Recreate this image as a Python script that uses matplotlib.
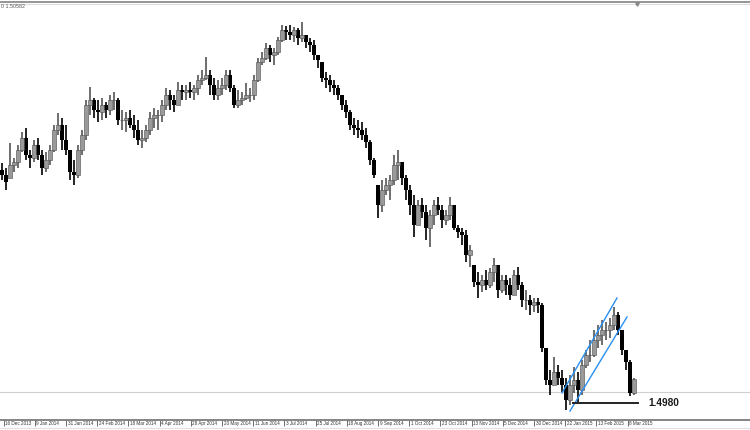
import matplotlib
matplotlib.use("Agg")
import matplotlib.pyplot as plt
import matplotlib.transforms as mtransforms
import numpy as np

# ---- data: GBPUSD daily, sampled bars (price x 1e-4) ----
highs = [16420,16390,16540,16450,16528,16606,16630,16498,16558,16570,
         16498,16486,16528,16648,16720,16690,16648,16498,16438,16528,
         16618,16798,16876,16810,16798,16810,16786,16828,16846,16810,
         16738,16726,16738,16708,16678,16618,16648,16726,16750,16738,
         16798,16870,16858,16828,16906,16888,16888,16906,16888,16948,
         16978,17056,16978,16930,16918,16930,16978,16978,16888,16858,
         16846,16900,16870,16948,17050,17086,17140,17128,17110,17176,
         17248,17242,17248,17236,17230,17266,17188,17170,17158,17068,
         17026,16966,16948,16918,16888,16828,16798,16738,16690,16678,
         16666,16630,16558,16450,16288,16318,16330,16348,16468,16498,
         16426,16348,16288,16228,16198,16210,16168,16138,16198,16216,
         16168,16138,16216,16168,16048,16030,16018,15928,15808,15766,
         15748,15778,15790,15850,15808,15748,15748,15730,15778,15796,
         15706,15658,15628,15610,15610,15580,15310,15178,15256,15208,
         15178,15130,15148,15196,15166,15238,15298,15358,15418,15448,
         15478,15466,15490,15556,15526,15418,15298,15238,15130]
lows = [16318,16258,16330,16366,16390,16486,16438,16390,16426,16438,
        16348,16366,16408,16486,16588,16498,16468,16318,16288,16330,
        16468,16558,16708,16690,16666,16678,16690,16708,16738,16648,
        16618,16606,16630,16570,16528,16510,16546,16588,16630,16618,
        16666,16738,16738,16726,16768,16798,16798,16810,16798,16828,
        16888,16918,16828,16798,16798,16828,16858,16846,16750,16750,
        16768,16798,16786,16798,16906,17008,17038,17026,17008,17068,
        17146,17158,17158,17146,17128,17146,17110,17086,17038,16990,
        16906,16870,16846,16828,16798,16738,16690,16618,16588,16570,
        16558,16510,16408,16330,16090,16126,16228,16198,16288,16318,
        16288,16198,16108,15976,16048,16090,15958,15916,16048,16108,
        16030,16048,16078,16018,15970,15928,15826,15796,15676,15610,
        15646,15658,15670,15706,15610,15640,15628,15598,15628,15658,
        15556,15538,15508,15526,15520,15286,15088,15028,15088,15088,
        15046,14938,14968,15040,14986,15028,15190,15226,15256,15310,
        15328,15358,15370,15418,15388,15268,15178,15022,15028]
closes = [16348,16306,16408,16426,16498,16570,16468,16450,16528,16468,
          16390,16438,16498,16618,16648,16558,16498,16366,16348,16498,
          16588,16768,16798,16738,16726,16768,16738,16798,16798,16678,
          16678,16690,16648,16618,16558,16570,16618,16690,16708,16708,
          16768,16828,16798,16768,16858,16846,16858,16846,16870,16918,
          16930,16948,16888,16828,16870,16888,16948,16870,16768,16798,
          16810,16828,16828,16918,17026,17050,17110,17068,17086,17158,
          17218,17206,17188,17218,17170,17188,17146,17128,17068,17038,
          16930,16918,16888,16870,16828,16768,16726,16648,16630,16618,
          16588,16546,16438,16348,16168,16258,16288,16318,16408,16426,
          16330,16258,16168,16048,16168,16126,16030,16108,16168,16138,
          16078,16108,16168,16030,16006,15988,15868,15898,15706,15688,
          15718,15688,15766,15808,15658,15718,15688,15628,15748,15688,
          15598,15598,15568,15586,15568,15310,15118,15088,15166,15130,
          15088,14998,15088,15118,15058,15208,15268,15268,15358,15388,
          15418,15418,15448,15508,15418,15298,15226,15040,15124]
first_open = 16380

date_labels = ["16 Dec 2013", "9 Jan 2014", "31 Jan 2014", "24 Feb 2014",
               "18 Mar 2014", "4 Apr 2014", "28 Apr 2014", "20 May 2014",
               "11 Jun 2014", "3 Jul 2014", "25 Jul 2014", "18 Aug 2014",
               "9 Sep 2014", "1 Oct 2014", "23 Oct 2014", "13 Nov 2014",
               "5 Dec 2014", "30 Dec 2014", "22 Jan 2015", "13 Feb 2015",
               "8 Mar 2015"]

support_level = 1.4980
current_price = 1.5046
upper_channel = ([140.0, 153.75], [1.5040, 1.5610])
lower_channel = ([142.0, 156.25], [1.4932, 1.5496])
support_span = [142.75, 159.0]
header_text = "0 1.50582"

# ---- prepare ----
hi = np.array(highs) / 1e4
lo = np.array(lows) / 1e4
cl = np.array(closes) / 1e4
op = np.concatenate([[first_open / 1e4], cl[:-1]])
op = np.clip(op, lo, hi)
idx = np.arange(len(cl))

W, H = 750, 430
fig = plt.figure(figsize=(7.5, 4.3), dpi=100)
fig.patch.set_facecolor("white")
ax = fig.add_axes([0, 10 / H, 1, 417 / H])
ax.set_xlim(-0.5, 187.0)
ax.set_ylim(1.4878, 1.7380)

up = cl >= op
dn = ~up
ax.vlines(idx[dn], lo[dn], hi[dn], color="black", lw=1.2, zorder=2)
ax.vlines(idx[up], lo[up], hi[up], color="#555555", lw=1.2, zorder=2)
body = np.abs(cl - op)
body = np.maximum(body, 0.00025)
ax.bar(idx[dn], body[dn], bottom=np.minimum(op, cl)[dn], width=0.8,
       color="black", edgecolor="none", zorder=3)
ax.bar(idx[up], body[up], bottom=np.minimum(op, cl)[up], width=0.8,
       color="#9a9a9a", edgecolor="#4a4a4a", linewidth=0.4, zorder=3)

# current price line
ax.axhline(current_price, color="#cfcfcf", lw=0.8, zorder=1)
# channel lines
ax.plot(*upper_channel, color="#2b8ff0", lw=1.0, zorder=4)
ax.plot(*lower_channel, color="#2b8ff0", lw=1.0, zorder=4)
# support line + label
ax.plot(support_span, [support_level, support_level], color="#222222", lw=1.4, zorder=4)
ax.text(161.5, support_level, f"{support_level:.4f}", fontsize=7.3, fontweight="bold",
        family="Liberation Sans", color="#1a1a1a", va="center", ha="left")

# axes styling
for s in ["left", "right", "top"]:
    ax.spines[s].set_visible(False)
ax.spines["bottom"].set_color("#707070")
ax.spines["bottom"].set_linewidth(1.2)
ax.set_yticks([])

tick_pos = [(3.5 + 31.2 * k - 2) / 4 for k in range(len(date_labels))]
ax.set_xticks(tick_pos)
ax.set_xticklabels(date_labels, fontsize=3.3, family="Liberation Sans", color="#333333")
ax.tick_params(axis="x", direction="out", length=4.3, width=0.6, color="#555555", pad=-3.6)
offset = mtransforms.ScaledTranslation(1.8 / 100, 0, fig.dpi_scale_trans)
for lab in ax.get_xticklabels():
    lab.set_horizontalalignment("left")
    lab.set_transform(lab.get_transform() + offset)

# frame lines of the chart window
fig.add_artist(plt.Line2D([0, 1], [1 - 1.5 / H, 1 - 1.5 / H], color="#8c8c8c", lw=1.3))
fig.add_artist(plt.Line2D([0, 1], [1 - 3.5 / H, 1 - 3.5 / H], color="#dcdcdc", lw=0.8))
fig.add_artist(plt.Line2D([0, 1], [2 / H, 2 / H], color="#e0e0e0", lw=0.8))
fig.text(1 / W, 1 - 6 / H, header_text, fontsize=3.8, family="Liberation Sans",
         color="#555555", va="center", ha="left")
fig.add_artist(plt.Line2D([637 / W], [1 - 3.5 / H], marker="v", markersize=2.5,
                          color="#888888", lw=0))

fig.savefig("out.png", dpi=100)
